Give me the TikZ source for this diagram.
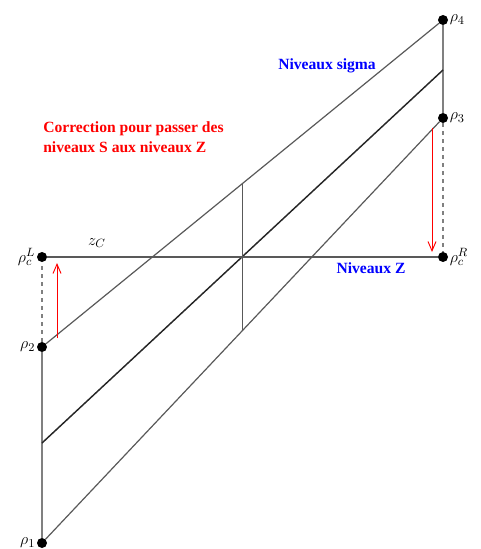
\documentclass[tikz,border=0pt]{standalone}
\usepackage{amsmath}
\usepackage{fontspec}
\setmainfont{Liberation Serif}
\usetikzlibrary{arrows.meta,calc}

\begin{document}
\begin{tikzpicture}[x=0.75pt,y=-0.75pt,
  dot/.style={circle, fill=black, inner sep=0pt, minimum size=7.5pt},
  rho/.style={font=\fontsize{13}{15}\selectfont, inner sep=1pt},
  lvl/.style={line width=0.9pt, black!65},
  midlvl/.style={line width=1.1pt, black!85},
  side/.style={line width=1.3pt, black!50},
  corr/.style={red, line width=0.7pt, -{Straight Barb[length=7pt,width=6pt]}},
  info/.style={font=\fontsize{11.7}{15}\selectfont\bfseries, inner sep=0pt}]

  \useasboundingbox (0,0) rectangle (480,549);

  % Parameters
  \def\xl{42}    % left column
  \def\xr{443}   % right column
  \def\yc{257}   % level z_C

  % Points
  \node[dot, label={[rho]left:$\rho_1$}] (r1) at (\xl,543) {};
  \node[dot, label={[rho]left:$\rho_2$}] (r2) at (\xl,347) {};
  \node[dot, label={[rho]left:$\rho_c^L$}] (rcL) at (\xl,\yc) {};
  \node[dot, label={[rho]right:$\rho_4$}] (r4) at (\xr,20) {};
  \node[dot, label={[rho]right:$\rho_3$}] (r3) at (\xr,118) {};
  \node[dot, label={[rho]right:$\rho_c^R$}] (rcR) at (\xr,\yc) {};

  % Sides
  \draw[side] (r1) -- (r2);
  \draw[side, dashed] (r2) -- (rcL);
  \draw[side] (r4) -- (r3);
  \draw[side, dashed] (r3) -- (rcR);

  % Sigma levels
  \coordinate (mL) at (\xl,443);
  \coordinate (mR) at (\xr,70);
  \draw[lvl] (r2) -- (r4);
  \draw[lvl] (r1) -- (r3);
  \draw[midlvl] (mL) -- (mR);
  \draw[lvl] ($(r2)!0.5!(r4)$) -- ($(r1)!0.5!(r3)$);

  % Z level
  \draw[lvl] (rcL) -- (rcR);
  \node[rho] (zc) at (97,243) {$z_C$};

  % Corrections
  \coordinate (aL1) at (57,338);
  \coordinate (aL2) at (57,263);
  \coordinate (aR1) at (432,128);
  \coordinate (aR2) at (432,252);
  \draw[corr] (aL1) -- (aL2);
  \draw[corr] (aR1) -- (aR2);

  % Labels
  \node[info, blue] (sig) at (327,66) {Niveaux sigma};
  \node[info, blue] (niz) at (371,268) {Niveaux Z};
  \node[info, red, anchor=north west, align=left] (cor) at (43,121)
    {Correction pour passer des\\niveaux S aux niveaux Z};
\end{tikzpicture}
\end{document}
